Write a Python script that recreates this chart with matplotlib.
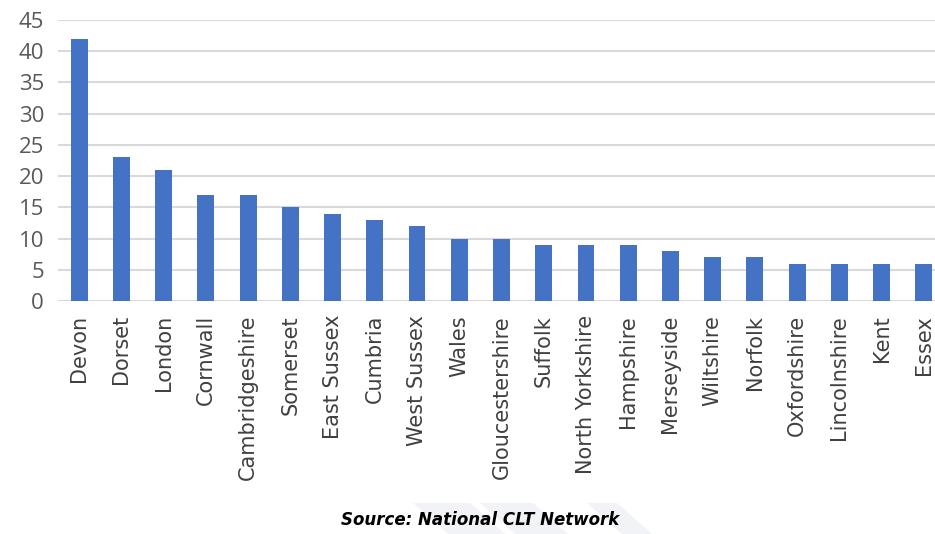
import matplotlib
matplotlib.use("Agg")
import matplotlib.pyplot as plt
from matplotlib.patches import Polygon

categories = ["Devon", "Dorset", "London", "Cornwall", "Cambridgeshire", "Somerset",
              "East Sussex", "Cumbria", "West Sussex", "Wales", "Gloucestershire",
              "Suffolk", "North Yorkshire", "Hampshire", "Merseyside", "Wiltshire",
              "Norfolk", "Oxfordshire", "Lincolnshire", "Kent", "Essex"]
values = [42, 23, 21, 17, 17, 15, 14, 13, 12, 10, 10, 9, 9, 9, 8, 7, 7, 6, 6, 6, 6]
yticks = [0, 5, 10, 15, 20, 25, 30, 35, 40, 45]

W, H = 935, 534
fig = plt.figure(figsize=(W / 100, H / 100), dpi=100)
left, right = 58 / W, 945 / W
bottom, top = 1 - 301 / H, 1 - 20 / H
ax = fig.add_axes([left, bottom, right - left, top - bottom])

x = range(len(categories))
ax.bar(x, values, width=0.4, color="#4472C4", zorder=3)
ax.set_xlim(-0.5, len(categories) - 0.5)
ax.set_ylim(0, 45)
ax.set_yticks(yticks)
ax.set_yticklabels([str(t) for t in yticks], fontsize=16, color="#595959", family="Open Sans")
ax.set_xticks(list(x))
ax.set_xticklabels(categories, rotation=90, fontsize=15, color="#404040", family="DejaVu Sans")
ax.tick_params(axis="both", length=0)
ax.tick_params(axis="y", pad=10)
ax.tick_params(axis="x", pad=10)
ax.grid(axis="y", color="#D9D9D9", linewidth=1.5, zorder=0)
for s in ax.spines.values():
    s.set_visible(False)

# faint watermark bands (display coords, y from bottom)
for x0, x1 in [(413, 470), (480, 533), (587, 617)]:
    poly = Polygon([(x0, 31), (x1, 31), (x1 + 35, 0), (x0 + 35, 0)],
                   closed=True, transform=None, facecolor="#F2F3F6", edgecolor="none", zorder=0)
    fig.patches.append(poly)

fig.text(480 / W, 1 - 520 / H, "Source: National CLT Network", ha="center", va="center",
         fontsize=12, fontweight="bold", fontstyle="italic",
         family=["Liberation Sans Narrow", "DejaVu Sans"], color="black", zorder=5)

fig.savefig("out.png", dpi=100, facecolor="white")
